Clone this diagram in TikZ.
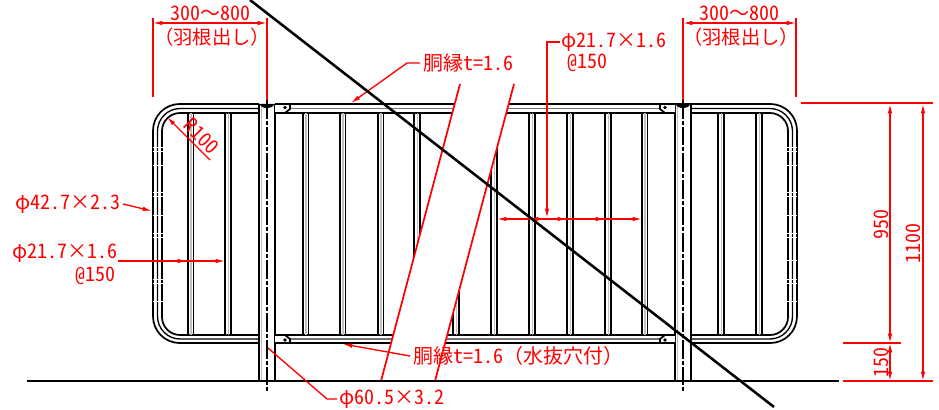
\documentclass[tikz,border=0pt]{standalone}
\usepackage{fontspec}
\newfontfamily\jpfont[RawFeature=+hwid]{Noto Sans CJK JP}
\newfontfamily\jpwide[RawFeature=+fwid]{Noto Sans CJK JP}
\newcommand{\kw}[1]{{\jpwide #1}}
\usetikzlibrary{arrows.meta}
\tikzset{
	lbl/.style={text=red,inner sep=0pt,font=\jpfont\fontsize{15pt}{17pt}\selectfont},
	lblnote/.style={lbl,font=\fontsize{14.5pt}{17pt}\selectfont},
	redline/.style={red,line width=1pt},
	extline/.style={red,line width=1.5pt},
	rail/.style={black,line width=1.3pt},
	railmid/.style={black!55,line width=.8pt},
}
\begin{document}
\begin{tikzpicture}[x=.75pt,y=-.75pt,>={Latex[length=7pt,width=3.4pt]}]
		\useasboundingbox (0,0) rectangle (939,410);
		% rails
		\foreach \a/\b/\c/\d/\e in {259/153/157.5/162/163,675/797/792.5/788/787}{
			\draw[rail,rounded corners=20pt] (\a,104)--(\b,104)--(\b,343)--(\a,343);
			\draw[rail,line width=1pt,rounded corners=17pt] (\a,108.5)--(\c,108.5)--(\c,339)--(\a,339);
			\draw[rail,rounded corners=13.5pt] (\a,113)--(\d,113)--(\d,335)--(\a,335);
			% joints of the bent pipe
			\foreach \gy in {147,151,165,192,196,215,233,237,260,279,283,301}
				\draw[white,line width=.6pt] (\b,\gy)--(\e,\gy);
		}
		\draw[rail] (275,104)--(675,104)(275,113)--(675,113)(275,335)--(675,335)(275,343)--(675,343);
		\draw[railmid] (275,108.5)--(675,108.5)(275,339)--(675,339);
		% bars
		\foreach \x in {190.5,228,305.5,342.5,380.5,417,456,494,532,570,608,644.5,721,759}{
			\draw[rail,line width=1.2pt] (\x-2.8,113)--(\x-2.8,335)(\x+2.8,113)--(\x+2.8,335);
			\draw[railmid,black!25] (\x+.5,113)--(\x+.5,335);
		}
		% posts
		\foreach \x in {267,683}{
			\fill[white] (\x-8,104) rectangle (\x+8,381);
			\draw[rail] (\x-8,104)--(\x-8,381)(\x+8,104)--(\x+8,381);
			\draw[railmid,black!25] (\x-5.5,104)--(\x-5.5,381);
			\fill (\x-7,104) arc (180:0:7 and 4)--cycle;
			\draw[rail,line width=1.3pt,dash pattern=on 14pt off 1.5pt on 3pt off 1.5pt] (\x,100)--(\x,392);
		}
		% brackets
		\draw[rail,fill=white] (275,104)--(290,104)--(290,109)--(285,113)--(275,113);
		\draw[rail,fill=white] (275,335)--(285,335)--(290,339)--(290,343)--(275,343);
		\draw[rail,fill=white] (675,104)--(660,104)--(660,109)--(665,113)--(675,113);
		\draw[rail,fill=white] (675,335)--(665,335)--(660,339)--(660,343)--(675,343);
		\foreach \x in {285,665}\foreach \y in {107.5,340}\fill (\x,\y) circle (1.8);
		% break of the view
		\fill[white] (460,84)--(514,84)--(435,381)--(381,381)--cycle;
		\draw[redline,line width=1.3pt] (460,84)--(381,381)(514,84)--(435,381);
		\draw[black,line width=1.5pt] (27,381)--(839,381);
		% overhang dimensions
		\draw[extline] (153,18)--(153,97)(267,18)--(267,100)(683,18)--(683,100)(796,18)--(796,97);
		\draw[redline,<->] (153,23)--(267,23);
		\draw[redline,<->] (683,23)--(796,23);
		\node[lbl] (overL) at (210,13){300\kw{～}800};
		\node[lblnote] (noteL) at (212,37){\jpwide （羽根出し）};
		\node[lbl] (overR) at (739,13){300\kw{～}800};
		\node[lblnote] (noteR) at (741,37){\jpwide （羽根出し）};
		% radius
		\draw[redline,->] (210,160)--(167,117);
		\node[lbl,rotate=-45] (radius) at (202,136){R100};
		% pipe labels
		\node[lbl,anchor=west] (pipeA) at (15,204){\kw{φ}42.7\kw{×}2.3};
		\draw[redline,->] (123,204)--(152,211);
		\node[lbl,anchor=west] (barA) at (12,253){\kw{φ}21.7\kw{×}1.6};
		\node[lbl,anchor=east] (pitchA) at (116,276){@150};
		\draw[redline,line width=1.6pt] (118,261)--(188,261);
		\draw[redline,->] (118,261)--(187,261);
		\draw[redline,->] (118,261)--(225,261);
		\node[lbl,anchor=west] (bandT) at (423,63){胴縁t=1.6};
		\draw[redline,->] (420,63)--(407,63)--(351,103);
		\node[lbl,anchor=west] (barB) at (561,42){\kw{φ}21.7\kw{×}1.6};
		\node[lbl,anchor=west] (pitchB) at (567,63){@150};
		\draw[redline,->] (560,42)--(547,42)--(547,218);
		\draw[redline,<->] (497,219)--(642,219);
		\foreach \x in {529,567,605}\draw[redline,->] (530,219)--(\x,219);
		\node[lbl,anchor=west] (bandB) at (413,356){胴縁t=1.6\kw{（水抜穴付）}};
		\draw[redline,->] (410,356)--(343,344);
		\node[lbl,anchor=west] (postA) at (339,399){\kw{φ}60.5\kw{×}3.2};
		\draw[redline] (337,399)--(327,399)--(268,348);
		% height dimensions
		\draw[extline] (801,103.5)--(933,103.5);
		\draw[extline] (843,381)--(933,381);
		\draw[redline,line width=1.2pt] (843,343)--(901,343);
		\draw[redline,<->] (890,104)--(890,343);
		\draw[redline,<->] (923,104)--(923,381);
		\draw[redline,<->] (890,343)--(890,381);
		\node[lbl,rotate=90] (hA) at (881,224){950};
		\node[lbl,rotate=90] (hB) at (913,243){1100};
		\node[lbl,rotate=90] (hC) at (881,362){150};
		% crossing-out stroke
		\draw[black,line width=1.9pt] (250,0)--(774,407);
		\end{tikzpicture}
\end{document}
